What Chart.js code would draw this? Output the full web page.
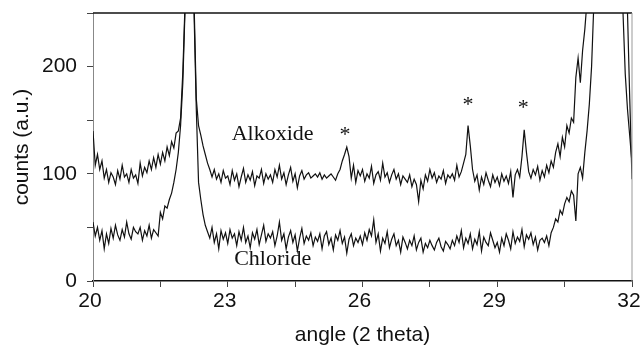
<!DOCTYPE html>
<html>
<head>
<meta charset="utf-8">
<script src="https://cdn.jsdelivr.net/npm/chart.js@4.4.1/dist/chart.umd.min.js"></script>
<style>
  html, body { margin: 0; padding: 0; background: #fff; }
  #wrap { width: 642px; height: 346px; position: relative; }
</style>
</head>
<body>
<div id="wrap"><canvas id="xrd"></canvas></div>
<script>
// scan grid: 2 theta from 20 to 32 in steps of 0.05
const angleStart = 20;
const angleStep = 0.05;

// counts, one row per degree (20 values each)
const alkoxideCounts = [
  140,108,118,104,112,96,104,92,101,97,90,103,95,108,97,100,92,104,96,99,
  91,110,98,106,101,112,104,115,106,118,109,120,112,125,117,130,124,138,140,152,
  195,260,330,360,320,260,170,145,136,126,118,110,104,97,104,95,100,92,103,96,
  98,90,103,94,100,88,97,105,92,99,94,102,89,98,96,104,91,100,95,99,
  92,104,97,108,95,101,90,99,106,93,100,87,98,103,95,99,101,96,98,100,
  97,101,95,99,96,98,100,97,94,100,104,112,118,125,116,96,108,92,103,98,
  104,93,100,96,107,91,99,102,94,110,97,101,92,99,104,95,100,90,98,95,
  92,99,88,95,90,74,94,86,99,93,104,96,101,92,98,95,103,91,99,96,
  100,94,108,97,102,110,118,145,126,104,93,99,85,97,90,101,94,88,99,92,
  97,89,100,93,98,91,102,78,99,104,97,116,141,120,102,96,104,99,107,94,
  103,97,108,101,112,106,120,128,116,134,125,145,138,152,148,190,208,185,215,235,
  262,300,330,360,380,400,410,420,410,400,380,360,340,320,300,280,250,193,160,135,
  110
];

const chlorideCounts = [
  55,42,50,38,47,30,44,35,49,40,52,43,38,48,41,55,44,39,50,46,
  44,50,38,47,42,52,40,48,45,42,64,58,70,68,76,82,92,104,120,145,
  185,255,320,350,310,250,160,92,76,62,52,46,40,50,36,44,30,47,39,45,
  35,48,40,44,33,46,38,50,36,42,31,45,39,48,34,43,52,37,44,40,
  46,33,42,55,38,44,30,41,47,36,43,28,40,49,35,42,38,45,33,41,
  37,44,30,42,46,34,40,29,43,38,47,35,41,26,39,44,33,40,36,42,
  34,45,38,48,42,57,36,44,28,40,35,46,31,39,44,33,38,27,41,36,
  30,38,33,42,29,36,40,27,35,31,38,33,29,36,40,32,28,37,34,30,
  38,33,42,36,47,31,40,35,44,30,39,34,46,28,41,36,33,45,38,31,
  36,27,40,33,44,38,30,46,35,41,37,48,32,43,39,45,34,41,29,38,
  40,36,42,33,45,50,58,55,66,62,72,78,74,84,80,56,100,106,96,120,
  140,165,200,258,300,340,380,410,430,440,435,420,400,380,350,320,300,290,250,170,
  95
];

const xLabelTicks = [20, 23, 26, 29, 32];
const yLabelTicks = [0, 100, 200];

// text labels placed in data coordinates
const notes = [
  { text: 'Alkoxide', x: 24.0, y: 137 },
  { text: 'Chloride', x: 24.0, y: 20 },
  { text: '*', x: 25.61, y: 136 },
  { text: '*', x: 28.35, y: 164 },
  { text: '*', x: 29.58, y: 161 }
];

const toPoints = arr => arr.map((v, i) => ({ x: +(angleStart + i * angleStep).toFixed(2), y: v }));

const notePlugin = {
  id: 'notes',
  afterDatasetsDraw(chart) {
    const { ctx, scales: { x, y } } = chart;
    ctx.save();
    ctx.fillStyle = '#111';
    ctx.textAlign = 'center';
    ctx.textBaseline = 'middle';
    ctx.font = '22px "Liberation Serif", "Times New Roman", serif';
    notes.forEach(n => {
      ctx.fillText(n.text, x.getPixelForValue(n.x), y.getPixelForValue(n.y));
    });
    // top and right frame
    const a = chart.chartArea;
    ctx.strokeStyle = '#111';
    ctx.lineWidth = 1.5;
    ctx.beginPath();
    ctx.moveTo(a.left, a.top);
    ctx.lineTo(a.right, a.top);
    ctx.stroke();
    ctx.strokeStyle = '#999';
    ctx.lineWidth = 1;
    ctx.beginPath();
    ctx.moveTo(a.right, a.top);
    ctx.lineTo(a.right, a.bottom);
    ctx.stroke();
    ctx.restore();
  }
};

new Chart(document.getElementById('xrd'), {
  type: 'line',
  data: {
    datasets: [
      {
        label: 'Alkoxide',
        data: toPoints(alkoxideCounts),
        borderColor: '#111',
        borderWidth: 1.2,
        pointRadius: 0,
        tension: 0,
        fill: false
      },
      {
        label: 'Chloride',
        data: toPoints(chlorideCounts),
        borderColor: '#111',
        borderWidth: 1.2,
        pointRadius: 0,
        tension: 0,
        fill: false
      }
    ]
  },
  options: {
    responsive: true,
    maintainAspectRatio: false,
    animation: false,
    layout: { padding: { top: 13, right: 10, left: 0, bottom: 0 } },
    plugins: {
      legend: { display: false },
      tooltip: { enabled: false }
    },
    scales: {
      x: {
        type: 'linear',
        min: 20,
        max: 32,
        afterFit: s => { s.height = 65; s.paddingLeft = 0; s.paddingRight = 0; },
        border: { display: true, color: '#111', width: 1.5 },
        grid: { drawOnChartArea: false, tickLength: 6, color: '#444' },
        ticks: {
          stepSize: 1.5,
          padding: 2,
          labelOffset: -3,
          color: '#111',
          font: { family: '"Liberation Sans", Arial, sans-serif', size: 21 },
          callback: v => xLabelTicks.includes(v) ? String(v) : ''
        },
        title: {
          display: true,
          text: 'angle (2 theta)',
          color: '#111',
          font: { family: '"Liberation Sans", Arial, sans-serif', size: 21, lineHeight: 1 },
          padding: { top: 0, bottom: 0 }
        }
      },
      y: {
        min: 0,
        max: 250,
        afterFit: s => { s.width = 93; s.paddingTop = 0; s.paddingBottom = 0; },
        border: { display: true, color: '#888', width: 1 },
        grid: { drawOnChartArea: false, tickLength: 6, color: '#444' },
        ticks: {
          stepSize: 50,
          padding: 10,
          color: '#111',
          font: { family: '"Liberation Sans", Arial, sans-serif', size: 21 },
          callback: v => yLabelTicks.includes(v) ? String(v) : ''
        },
        title: {
          display: true,
          text: 'counts (a.u.)',
          color: '#111',
          font: { family: '"Liberation Sans", Arial, sans-serif', size: 21, lineHeight: 1 },
          padding: { top: 12, bottom: 0 }
        }
      }
    }
  },
  plugins: [notePlugin]
});
</script>
</body>
</html>
